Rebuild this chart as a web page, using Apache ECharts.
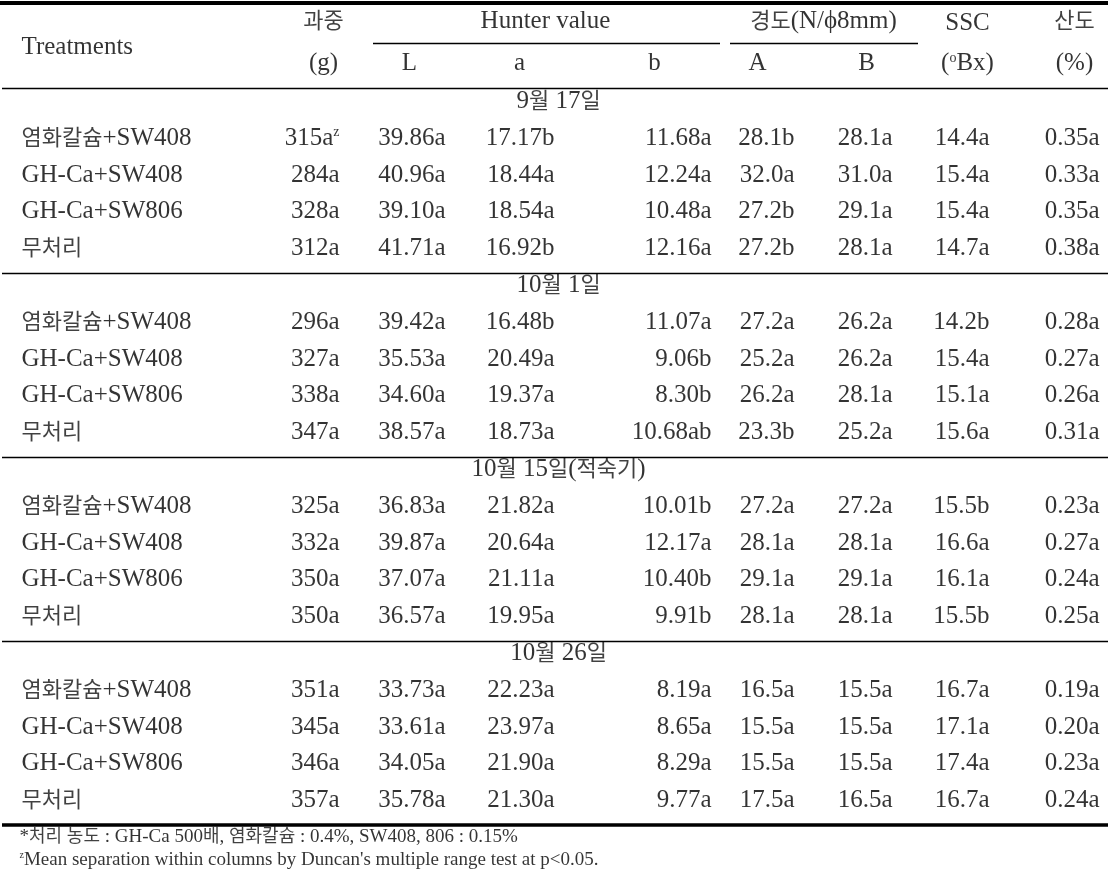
<!DOCTYPE html>
<html>
<head>
<meta charset="utf-8">
<script src="https://cdn.jsdelivr.net/npm/echarts@6/dist/echarts.min.js"></script>
<style>
html,body{margin:0;padding:0;background:#fff;}
#main{width:1112px;height:884px;}
</style>
</head>
<body>
<div id="main"></div>
<script>
// 처리구, 조사일
var treatments = ['염화칼슘+SW408', 'GH-Ca+SW408', 'GH-Ca+SW806', '무처리'];
var dates = ['9월 17일', '10월 1일', '10월 15일(적숙기)', '10월 26일'];

// 항목별 값 (조사일 순서 x 처리구 순서)
var weight = ['315a^z','284a','328a','312a', '296a','327a','338a','347a', '325a','332a','350a','350a', '351a','345a','346a','357a'];
var hunterL = ['39.86a','40.96a','39.10a','41.71a', '39.42a','35.53a','34.60a','38.57a', '36.83a','39.87a','37.07a','36.57a', '33.73a','33.61a','34.05a','35.78a'];
var hunterA = ['17.17b','18.44a','18.54a','16.92b', '16.48b','20.49a','19.37a','18.73a', '21.82a','20.64a','21.11a','19.95a', '22.23a','23.97a','21.90a','21.30a'];
var hunterB = ['11.68a','12.24a','10.48a','12.16a', '11.07a','9.06b','8.30b','10.68ab', '10.01b','12.17a','10.40b','9.91b', '8.19a','8.65a','8.29a','9.77a'];
var firmA = ['28.1b','32.0a','27.2b','27.2b', '27.2a','25.2a','26.2a','23.3b', '27.2a','28.1a','29.1a','28.1a', '16.5a','15.5a','15.5a','17.5a'];
var firmB = ['28.1a','31.0a','29.1a','28.1a', '26.2a','26.2a','28.1a','25.2a', '27.2a','28.1a','29.1a','28.1a', '15.5a','15.5a','15.5a','16.5a'];
var ssc = ['14.4a','15.4a','15.4a','14.7a', '14.2b','15.4a','15.1a','15.6a', '15.5b','16.6a','16.1a','15.5b', '16.7a','17.1a','17.4a','16.7a'];
var acidity = ['0.35a','0.33a','0.35a','0.38a', '0.28a','0.27a','0.26a','0.31a', '0.23a','0.27a','0.24a','0.25a', '0.19a','0.20a','0.23a','0.24a'];

// 머리글
var headTop = ['과중', 'Hunter value', '경도(N/ϕ8mm)', 'SSC', '산도'];
var headSub = ['(g)', 'L', 'a', 'b', 'A', 'B', '(^oBx)', '(%)'];
var notes = ['*처리 농도 : GH-Ca 500배, 염화칼슘 : 0.4%, SW408, 806 : 0.15%',
             '^zMean separation within columns by Duncan\'s multiple range test at p<0.05.'];

var columns = [weight, hunterL, hunterA, hunterB, firmA, firmB, ssc, acidity];

// 표 배치 (x: 픽셀 단위 축, y: 행 번호 축)
var nameLeft = 22;
var colRight = [340, 446, 555, 712, 795, 893, 990, 1100];
var subCenter = [324, 410, 520, 655, 758, 867, 968, 1075];
var topCenter = [324, 546, 824, 968, 1075];
var dateCenter = 559;
var FONT = '"Liberation Serif","Noto Sans CJK KR",serif';
var KFONT = '"Noto Sans CJK KR",sans-serif';

var chart = echarts.init(document.getElementById('main'));

var fmt = function(s){
    return s.replace(/([\uAC00-\uD7A3]+)/g, '{ko|$1}')
            .replace('^z', '{sup|z}').replace('^o', '{sup|o}');
};

var cellData = [], nameData = [], dateData = [], headData = [], noteData = [];
var each = function(arr, fn){ for (var i = 0; i < arr.length; i++) fn(arr[i], i); };

each(dates, function(d, s){
    var r0 = s * 5;
    dateData.push([dateCenter, r0, d]);
    each(treatments, function(t, k){
        var row = r0 + 1 + k;
        nameData.push([nameLeft, row, t]);
        each(columns, function(col, c){
            cellData.push([colRight[c], row, col[s * 4 + k]]);
        });
    });
});

each(headTop, function(h, i){ headData.push([topCenter[i], i === 3 ? -2.12 : -2.18, h]); });
each(headSub, function(h, i){ headData.push([subCenter[i], -1.02, h]); });
nameData.push([nameLeft, -1.47, 'Treatments']);
each(notes, function(n, i){ noteData.push([20, 20.0 + i * 0.6, n]); });

// 가로줄
var lastRow = dates.length * 5 - 1;
var rule = function(x1, x2, y, w){
    return [{coord: [x1, y], lineStyle: {width: w}}, {coord: [x2, y]}];
};
var rules = [
    rule(0, 1108, -2.69, 4),
    rule(373, 720, -1.6, 1.4),
    rule(730, 918, -1.6, 1.4),
    rule(2, 1108, -0.38, 1.4),
    rule(2, 1108, lastRow + 0.65, 3.5)
];
for (var s = 1; s < dates.length; s++) rules.push(rule(2, 1108, s * 5 - 0.35, 1.4));

var textSeries = function(name, data, size, align, koScale){
    return {
        name: name,
        type: 'scatter',
        data: data,
        symbolSize: 1,
        itemStyle: {color: 'rgba(0,0,0,0)'},
        silent: true,
        animation: false,
        label: {
            show: true,
            position: [0, 0],
            align: align,
            verticalAlign: 'middle',
            color: '#000',
            fontFamily: FONT,
            fontSize: size,
            formatter: function(p){ return fmt(p.value[2]); },
            rich: {
                ko: {fontSize: Math.round(size * (koScale || 0.86)), fontFamily: KFONT, color: '#111', verticalAlign: 'middle', padding: [0, 0, 4, 0]},
                sup: {fontSize: Math.round(size * 0.55), verticalAlign: 'top', color: '#000', fontFamily: FONT, padding: [0, 0, size * 0.4, 0]}
            }
        }
    };
};

var option = {
    backgroundColor: '#fff',
    animation: false,
    grid: {left: 0, right: 0, top: 0, bottom: 0},
    xAxis: {type: 'value', min: 0, max: 1112, show: false},
    yAxis: {type: 'value', inverse: true, min: -2.77, max: 21.25, show: false},
    series: [
        textSeries('cells', cellData, 25, 'right'),
        textSeries('names', nameData, 25, 'left'),
        textSeries('dates', dateData, 25, 'center'),
        (function(){
            var s = textSeries('head', headData, 25, 'center');
            s.markLine = {
                silent: true,
                symbol: ['none', 'none'],
                label: {show: false},
                lineStyle: {color: '#000', type: 'solid'},
                data: rules
            };
            return s;
        })(),
        textSeries('notes', noteData, 19, 'left', 0.95)
    ]
};
chart.setOption(option);
</script>
</body>
</html>
